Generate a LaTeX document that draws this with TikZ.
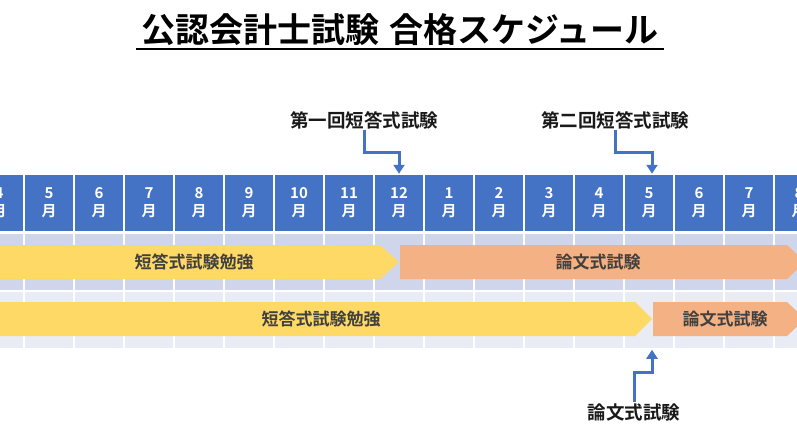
\documentclass[tikz,border=0pt]{standalone}
\usepackage{fontspec}
\setmainfont{Noto Sans CJK JP}[BoldFont=* Bold]
\usetikzlibrary{arrows.meta}
\definecolor{hdr}{HTML}{4472C4}
\definecolor{rowa}{HTML}{CFD5EA}
\definecolor{rowb}{HTML}{E9EBF5}
\definecolor{yel}{HTML}{FFD966}
\definecolor{ora}{HTML}{F4B183}
\definecolor{dtext}{HTML}{404040}
\begin{document}
\begin{tikzpicture}[x=1pt,y=-1pt,
  cell/.style={draw=white, line width=1.5pt, minimum width=50pt, minimum height=57pt, inner sep=0pt, align=center, text=white, fill=hdr, font=\fontsize{15}{18}\selectfont\bfseries},
  bga/.style={draw=white, line width=1.5pt, minimum width=50pt, minimum height=58pt, inner sep=0pt, fill=rowa},
  bgb/.style={draw=white, line width=1.5pt, minimum width=50pt, minimum height=58pt, inner sep=0pt, fill=rowb},
  bartext/.style={inner sep=0pt, text=dtext, font=\fontsize{17}{20}\selectfont\bfseries},
  lab/.style={inner sep=1pt, text=black!90, font=\fontsize{18.5}{22}\selectfont\bfseries},
  conn/.style={draw=hdr, line width=3pt, -{Triangle[width=11pt,length=9pt]}},
  ttl/.style={inner ysep=0pt, inner xsep=5pt, font=\fontsize{34}{39}\selectfont\bfseries}]
\useasboundingbox (0,0) rectangle (797,425);
\clip (0,0) rectangle (797,425);
\fill[white] (0,0) rectangle (797,425);
\node[ttl] (t) at (400,30) {公認会計士試験\hspace{0.3em}合格スケジュール};
\draw[line width=2pt] (t.west |- 0,49) -- (t.east |- 0,49);
\foreach \m [count=\i from 0] in {4,5,6,7,8,9,10,11,12,1,2,3,4,5,6,7,8} {
  \node[cell] (m\i) at ({-1+50*\i},203) {\m\\月};
  \node[bga] (a\i) at ({-1+50*\i},262) {};
  \node[bgb] (b\i) at ({-1+50*\i},320) {};
}
\fill[yel] (-10,245) -- (380,245) -- (399,262) -- (380,279) -- (-10,279) -- cycle;
\fill[ora] (400,245) -- (787,245) -- (805,262) -- (787,279) -- (400,279) -- cycle;
\fill[yel] (-10,302) -- (635,302) -- (652,319) -- (635,336) -- (-10,336) -- cycle;
\fill[ora] (653,302) -- (787,302) -- (805,319) -- (787,336) -- (653,336) -- cycle;
\node[bartext] (s1) at (194,262) {短答式試験勉強};
\node[bartext] (o1) at (598,262) {論文式試験};
\node[bartext] (s2) at (321,319) {短答式試験勉強};
\node[bartext] (o2) at (725,319) {論文式試験};
\node[lab] (l1) at (364,120) {第一回短答式試験};
\node[lab] (l2) at (615,120) {第二回短答式試験};
\node[lab] (l3) at (634,412) {論文式試験};
\draw[conn] (l1.south) -- (l1.south |- 0,152) -| (m8.north);
\draw[conn] (l2.south) -- (l2.south |- 0,152) -| ([xshift=3pt]m13.north);
\draw[conn] (l3.north) -- (l3.north |- 0,372) -| ([xshift=3pt]b13.south);
\end{tikzpicture}
\end{document}
